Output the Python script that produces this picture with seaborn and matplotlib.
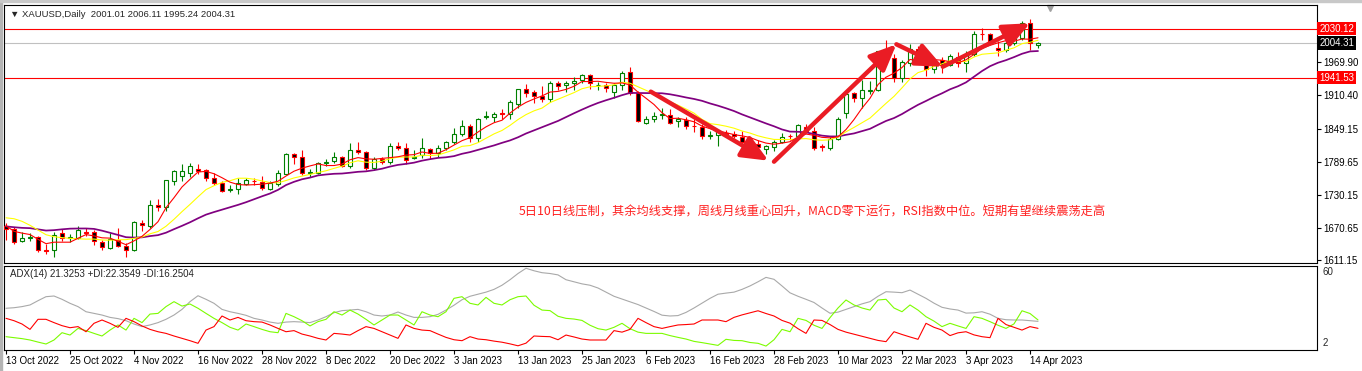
import numpy as np
import pandas as pd
import seaborn as sns
import matplotlib
matplotlib.use('Agg')
import matplotlib.pyplot as plt
import matplotlib.transforms as mtransforms
from matplotlib.patches import Rectangle

# daily XAUUSD bars, 13 Oct 2022 .. 17 Apr 2023
opens = [1673, 1667.5, 1646, 1651, 1653, 1630, 1630, 1661, 1651, 1652,
         1663, 1663, 1644, 1633, 1649, 1637, 1630, 1678, 1674, 1712,
         1707, 1754, 1763, 1770, 1777, 1774.6, 1761, 1752, 1739, 1740,
         1750, 1755, 1753, 1741, 1750, 1768, 1803, 1797.6, 1769, 1770,
         1787, 1791, 1797.6, 1782, 1811.5, 1806.6, 1777.8, 1795.2, 1789.2, 1818,
         1813.8, 1796, 1801.2, 1813.2, 1804.8, 1815, 1825.8, 1839.6, 1855, 1832,
         1870, 1870.6, 1877, 1875, 1894.3, 1920.3, 1915, 1908.3, 1903.5, 1931.3,
         1927.6, 1932, 1937.3, 1946.3, 1927.6, 1928.2, 1915.6, 1928.2, 1951, 1913,
         1860.3, 1866.3, 1874, 1874.7, 1862.6, 1864.5, 1855, 1852.4, 1836, 1837.4,
         1841, 1840.4, 1834.4, 1826.5, 1822.3, 1812.1, 1816.3, 1825.4, 1836.2, 1835.6,
         1852, 1846, 1818, 1814, 1831, 1878, 1913, 1904, 1918, 1919,
         1989, 1977.6, 1940, 1968.6, 1993, 1976.5, 1957, 1973.5, 1965, 1979.5,
         1968, 1984, 2021, 2020, 1996, 1991.5, 2004.7, 2012.7, 2039.7, 2001.01]
highs = [1678, 1671, 1662, 1660, 1656, 1641, 1662, 1668, 1659, 1674,
         1670, 1667, 1649, 1660, 1669, 1642, 1683, 1684, 1720, 1722,
         1757, 1774, 1786, 1787, 1786, 1777, 1769, 1754, 1747, 1760,
         1760, 1760, 1763, 1755, 1775, 1805, 1806, 1810, 1777, 1790,
         1794, 1808, 1800, 1824, 1825, 1809, 1798, 1798, 1823, 1825,
         1823, 1810, 1833, 1815, 1820, 1827, 1850, 1865, 1858, 1869,
         1881, 1880, 1884, 1901, 1921, 1930, 1919, 1926, 1935, 1936,
         1935, 1942, 1949, 1949, 1934, 1932, 1931, 1953, 1960, 1918,
         1872, 1880, 1887, 1884, 1870, 1870, 1867, 1858, 1845, 1847,
         1847, 1846, 1845, 1834, 1828, 1820, 1829, 1841, 1839, 1858,
         1858, 1852, 1822, 1834, 1870, 1914, 1915, 1937, 1935, 1990,
         2009, 1984, 1974, 2003, 1998, 1979, 1975, 1978, 1985, 1987,
         1990, 2025, 2032, 2023, 2008, 2009, 2022, 2044, 2048, 2006.11]
lows = [1648, 1641, 1644, 1646, 1627, 1622, 1618, 1647, 1645, 1650,
        1655, 1640, 1630, 1631, 1635, 1617, 1628, 1665, 1670, 1701,
        1701, 1748, 1755, 1762, 1767, 1754, 1747, 1734, 1734, 1732,
        1747, 1747, 1739, 1739, 1745, 1767, 1786, 1765, 1762, 1768,
        1781, 1788, 1780, 1778, 1804, 1774, 1774, 1785, 1786, 1810,
        1785, 1794, 1796, 1795, 1799, 1811, 1822, 1836, 1825, 1826,
        1867, 1862, 1867, 1867, 1887, 1907, 1896, 1897, 1897, 1919,
        1915, 1920, 1932, 1921, 1920, 1916, 1905, 1920, 1911, 1861,
        1858, 1862, 1867, 1858, 1853, 1849, 1843, 1830, 1830, 1818,
        1836, 1832, 1821, 1818, 1808, 1804, 1809, 1823, 1829, 1832,
        1842, 1810, 1809, 1810, 1829, 1868, 1897, 1886, 1912, 1918,
        1967, 1934, 1933, 1963, 1969, 1945, 1950, 1950, 1962, 1960,
        1952, 1980, 2009, 2002, 1981, 1987, 2001, 2010, 1992, 1995.24]
closes = [1667.5, 1644.6, 1652, 1653, 1630, 1628, 1658, 1652, 1653, 1665.6,
          1661, 1646, 1635, 1650, 1637, 1630, 1681, 1676, 1712, 1707,
          1756, 1772, 1773, 1781, 1773.5, 1761, 1751, 1737, 1741, 1752,
          1756.6, 1754, 1741.6, 1750.6, 1769, 1803.6, 1797.6, 1769, 1771, 1787,
          1789, 1797.6, 1782, 1810, 1806.6, 1777.8, 1794, 1789.7, 1817.5, 1813.8,
          1792.8, 1798, 1813.8, 1804.8, 1815, 1825.3, 1839.6, 1853.5, 1832, 1866,
          1872, 1876.7, 1876, 1896.7, 1920.3, 1914.3, 1907.8, 1903.5, 1931.3, 1926.4,
          1932.4, 1936, 1946.3, 1931.3, 1929, 1922.3, 1928.2, 1949.3, 1913.3, 1863.2,
          1867.6, 1871.7, 1875, 1860.3, 1866.3, 1853.6, 1854, 1835.6, 1837, 1844.6,
          1840, 1835.6, 1824.7, 1822.3, 1816.3, 1817.5, 1825.4, 1834.4, 1835.6, 1856.7,
          1846, 1814, 1816, 1831, 1866, 1912, 1904, 1919, 1920, 1989.7,
          1979, 1940.4, 1970, 1993, 1979, 1956.6, 1972, 1964.4, 1980, 1968,
          1985, 2020, 2020, 2006, 1991.5, 2004.7, 2014.5, 2039.7, 2004.7, 2004.31]
# closes before the first visible bar, only to start the moving averages
pre_closes = [1675, 1675, 1664, 1673, 1671, 1644, 1622, 1629, 1660, 1660,
              1661, 1699, 1725, 1716, 1712, 1695, 1668, 1666, 1673]

# ADX(14) pane
adx = [30.8, 31.2, 32.0, 33.2, 36.3, 39.2, 39.7, 37.3, 34.4, 32.0,
       28.3, 27.1, 25.9, 24.2, 23.3, 21.8, 19.4, 17.5, 18.7, 20.4,
       22.8, 25.9, 30.0, 35.6, 39.9, 37.3, 34.4, 30.0, 28.3, 27.1,
       25.7, 23.5, 22.3, 20.8, 19.9, 20.8, 21.1, 20.8, 20.4, 22.3,
       24.7, 27.6, 29.1, 29.5, 30.0, 28.3, 25.9, 25.2, 25.9, 28.1,
       25.9, 24.2, 24.2, 24.7, 26.4, 29.5, 33.0, 37.0, 39.5, 41.0,
       42.5, 44.5, 47.5, 51.5, 56.0, 59.8, 58.0, 56.6, 56.0, 55.0,
       51.5, 50.0, 48.5, 47.5, 45.5, 42.5, 39.5, 37.5, 35.5, 33.5,
       31.0, 28.5, 25.8, 25.2, 25.5, 27.8, 31.0, 34.5, 38.0, 41.0,
       41.8, 42.5, 44.5, 47.0, 50.0, 53.2, 51.8, 47.0, 42.0, 39.5,
       37.3, 35.0, 31.0, 27.2, 28.0, 30.0, 32.0, 34.0, 35.6, 39.5,
       42.8, 42.5, 42.1, 44.0, 41.0, 38.0, 34.5, 31.5, 30.3, 29.5,
       27.3, 27.5, 28.3, 26.5, 23.5, 22.5, 22.3, 22.3, 21.8, 21.3253]
plus_di = [10.2, 9.5, 8.8, 7.8, 6.3, 4.9, 7.8, 13.1, 11.4, 16.2,
           14.6, 12.6, 10.7, 15.0, 18.7, 15.0, 23.5, 20.4, 26.6, 27.1,
           32.0, 35.6, 32.4, 33.9, 30.8, 27.1, 23.5, 20.4, 17.0, 15.0,
           19.4, 17.5, 15.5, 13.8, 13.1, 27.1, 24.7, 21.8, 18.0, 21.1,
           22.8, 28.3, 25.9, 29.5, 26.6, 22.8, 18.7, 22.3, 25.9, 25.9,
           22.3, 18.7, 28.3, 25.9, 24.7, 28.3, 38.0, 39.2, 34.4, 33.2,
           38.7, 34.4, 33.2, 37.0, 39.2, 39.7, 33.0, 29.5, 29.1, 25.0,
           23.5, 23.0, 22.0, 18.5, 16.0, 15.0, 17.0, 19.9, 16.0, 13.5,
           12.6, 12.6, 12.6, 11.0, 9.7, 8.5, 6.8, 5.9, 4.9, 3.9,
           8.3, 7.5, 7.3, 6.0, 5.4, 3.4, 8.0, 15.5, 13.8, 23.5,
           22.0, 18.5, 16.2, 24.0, 31.0, 36.8, 33.2, 31.0, 29.5, 36.8,
           37.3, 31.0, 28.3, 33.2, 29.5, 24.7, 21.5, 17.5, 19.9, 18.0,
           16.2, 24.7, 23.5, 21.1, 18.5, 16.2, 19.5, 29.0, 27.0, 22.3549]
minus_di = [23.5, 21.8, 19.4, 15.5, 22.8, 22.8, 20.4, 18.2, 16.7, 17.5,
            13.8, 19.9, 22.3, 19.9, 17.0, 23.5, 21.1, 18.0, 15.5, 13.8,
            12.6, 10.7, 9.0, 7.3, 5.4, 15.0, 17.5, 25.2, 22.3, 24.2,
            21.8, 21.1, 20.8, 18.7, 16.2, 13.8, 14.6, 12.1, 10.7, 9.0,
            7.8, 12.6, 12.1, 11.4, 14.6, 17.5, 16.2, 13.8, 11.4, 9.0,
            18.7, 16.2, 15.0, 14.6, 12.1, 9.7, 8.0, 7.3, 10.2, 8.5,
            8.0, 7.0, 6.2, 5.0, 3.6, 5.5, 10.7, 10.4, 10.2, 8.0,
            11.4, 10.0, 8.5, 7.8, 7.8, 7.8, 14.6, 13.5, 15.5, 23.5,
            20.4, 17.5, 16.2, 17.5, 18.7, 19.0, 19.4, 22.3, 22.3, 22.3,
            21.1, 24.2, 26.0, 27.5, 29.0, 27.0, 25.2, 22.0, 20.0, 16.0,
            12.6, 22.3, 22.0, 19.0, 15.5, 13.5, 12.0, 10.5, 9.0, 7.5,
            6.6, 13.8, 11.8, 10.0, 8.3, 19.9, 17.0, 15.0, 11.0, 13.0,
            13.8, 11.5, 10.2, 9.5, 23.5, 19.0, 17.0, 15.0, 17.5, 16.2504]

tick_labels = ['13 Oct 2022', '25 Oct 2022', '4 Nov 2022', '16 Nov 2022', '28 Nov 2022',
               '8 Dec 2022', '20 Dec 2022', '3 Jan 2023', '13 Jan 2023', '25 Jan 2023',
               '6 Feb 2023', '16 Feb 2023', '28 Feb 2023', '10 Mar 2023', '22 Mar 2023',
               '3 Apr 2023', '14 Apr 2023']
price_ticks = [1611.15, 1670.65, 1730.15, 1789.65, 1849.15, 1910.40, 1969.90]
red_levels = [2030.12, 1941.53]
bid = 2004.31

# hand drawn trend arrows (bar, price) -> (bar, price)
arrows = [(80.6, 1916.2, 95.3, 1791.5),
          (96.0, 1789.7, 111.3, 2001.8),
          (111.3, 2001.8, 117.1, 1961.3),
          (117.1, 1961.3, 128.0, 2039.8)]

note = '5日10日线压制，其余均线支撑，周线月线重心回升，MACD零下运行，RSI指数中位。短期有望继续震荡走高'

GREEN = '#008000'
RED = '#ff0000'

sns.set_style('white')
plt.rcParams['font.family'] = ['Liberation Sans', 'DejaVu Sans']
plt.rcParams['font.size'] = 7

W, H = 1362, 371
fig = plt.figure(figsize=(W / 100, H / 100), dpi=100)


def px_axes(x0, y0, x1, y1):
    return fig.add_axes([x0 / W, 1 - y1 / H, (x1 - x0) / W, (y1 - y0) / H])


ax = px_axes(4, 5, 1317, 263)
ax2 = px_axes(4, 266, 1317, 350)

df = pd.DataFrame({'bar': np.arange(len(closes)), 'open': opens, 'high': highs,
                   'low': lows, 'close': closes,
                   'adx': adx, 'pdi': plus_di, 'mdi': minus_di})
allc = pd.Series(pre_closes + closes)
for n in (5, 10, 20):
    df['ma%d' % n] = allc.rolling(n).mean().iloc[len(pre_closes):].to_numpy()

#candles
up = (df['close'] >= df['open']).to_numpy()
edge = np.where(up, GREEN, RED)
ax.vlines(df['bar'], df['low'], df['high'], colors=edge, lw=0.8, zorder=2)
body = (df['close'] - df['open']).abs().clip(lower=0.05)
ax.bar(df['bar'], body, bottom=df[['open', 'close']].min(axis=1), width=0.6,
       color=list(np.where(up, 'white', 'black')), edgecolor=list(edge),
       linewidth=0.8, zorder=3)

#moving averages
sns.lineplot(data=df, x='bar', y='ma20', ax=ax, color='#800080', lw=1.25, zorder=4)
sns.lineplot(data=df, x='bar', y='ma10', ax=ax, color='#ffff00', lw=0.8, zorder=4)
sns.lineplot(data=df, x='bar', y='ma5', ax=ax, color=RED, lw=0.8, zorder=4)

#levels
for lv in red_levels:
    ax.axhline(lv, color=RED, lw=0.8, zorder=1)
ax.axhline(bid, color='#c0c0c0', lw=0.8, zorder=1)

#arrows
for x0, y0, x1, y1 in arrows:
    ax.annotate('', xy=(x1, y1), xytext=(x0, y0), zorder=6,
                arrowprops=dict(arrowstyle='-|>,head_length=1.6,head_width=0.7',
                                color='#ea1c24', lw=3.2, shrinkA=0, shrinkB=0,
                                mutation_scale=10))

ax.set_xlim(-0.25, 163.875)
ax.set_ylim(1606.6, 2072.8)
ax.set_xlabel('')
ax.set_ylabel('')
ax.set_xticks([])
ax.yaxis.tick_right()
ax.set_yticks(price_ticks, labels=['%.2f' % v for v in price_ticks])
ax.tick_params(axis='y', direction='out', length=3, width=0.8, pad=1.5,
               labelsize=7, colors='black', right=True)

trans = mtransforms.blended_transform_factory(ax.transAxes, ax.transData)
for val, fc in [(red_levels[0], RED), (bid, 'black'), (red_levels[1], RED)]:
    ax.text(1.0016, val, '%.2f' % val, transform=trans, ha='left', va='center',
            color='white', fontsize=7,
            bbox=dict(boxstyle='square,pad=0.18', fc=fc, ec='none'))

ax.text(0.0046, 0.965, '\u25bc XAUUSD,Daily  2001.01 2006.11 1995.24 2004.31',
        transform=ax.transAxes, ha='left', va='center', fontsize=6.8)
ax.text(0.3922, 0.198, note, transform=ax.transAxes, ha='left', va='center',
        fontsize=8.8, color='#ff2020', family=['Noto Sans CJK SC', 'DejaVu Sans'])
ax.plot([(1050 - 4) / 1313], [0.99], marker='v', ms=5, color='#a0a0a0',
        transform=ax.transAxes, clip_on=False)

#ADX pane
sns.lineplot(data=df, x='bar', y='adx', ax=ax2, color='#a9a9a9', lw=0.8)
sns.lineplot(data=df, x='bar', y='pdi', ax=ax2, color='#7cfc00', lw=0.8)
sns.lineplot(data=df, x='bar', y='mdi', ax=ax2, color=RED, lw=0.8)
ax2.set_xlim(-0.25, 163.875)
ax2.set_ylim(0.55, 61.45)
ax2.set_xlabel('')
ax2.set_ylabel('')
ax2.set_yticks([])
ax2.set_xticks(np.arange(0, 8 * len(tick_labels), 8), labels=tick_labels)
for t in ax2.get_xticklabels():
    t.set_horizontalalignment('left')
ax2.tick_params(axis='x', direction='out', length=3, width=0.8, pad=1,
                labelsize=7, colors='black', bottom=True)
ax2.text(0.0046, 0.905, 'ADX(14) 21.3253 +DI:22.3549 -DI:16.2504',
         transform=ax2.transAxes, ha='left', va='center', fontsize=7)
ax2.text(1.004, 0.93, '60', transform=ax2.transAxes, ha='left', va='center', fontsize=7)
ax2.text(1.004, 0.08, '2', transform=ax2.transAxes, ha='left', va='center', fontsize=7)

for a in (ax, ax2):
    for s in a.spines.values():
        s.set_color('black')
        s.set_linewidth(0.8)
    a.grid(False)

#window borders
fig.add_artist(Rectangle((0, 0), 2 / W, 1, transform=fig.transFigure, color='#b4b4b4'))
fig.add_artist(Rectangle((0, 1 - 2 / H), 1, 2 / H, transform=fig.transFigure, color='#c8c8c8'))

fig.savefig('out.png', dpi=100)
